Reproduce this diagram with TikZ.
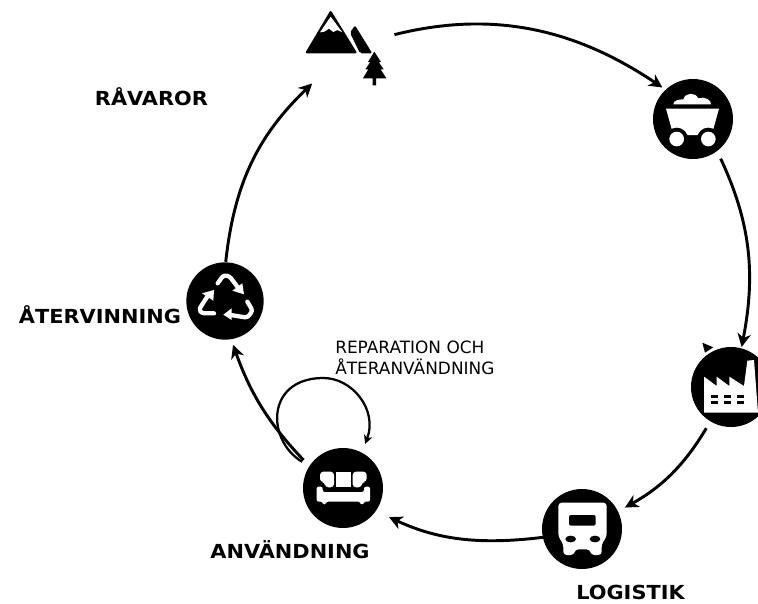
\documentclass[tikz,border=0pt]{standalone}
\usepackage{fontspec}
\setmainfont{DejaVu Sans}
\newfontfamily\widebold[FakeStretch=1.08]{DejaVu Sans}
\usetikzlibrary{arrows.meta}
\tikzset{
  disc/.style={circle,fill=black,minimum size=60pt,inner sep=0pt,outer sep=0pt},
  flow/.style={line width=2.2pt,-{Stealth[length=10pt,width=10pt,inset=3pt]}},
  loopflow/.style={line width=1.7pt,-{Stealth[length=6.5pt,width=6.5pt,inset=1.8pt]}},
  boldlabel/.style={font=\widebold\bfseries\fontsize{14.5}{16}\selectfont,inner sep=0pt,anchor=center},
  thinlabel/.style={font=\fontsize{12.7}{14}\selectfont,inner sep=0pt,anchor=west},
  ink/.style={fill=white,draw=none},
  zoomed/.style={x=0.25pt,y=-0.25pt}
}
\begin{document}
\begin{tikzpicture}[x=0.75pt,y=-0.75pt]
\useasboundingbox (0,0) rectangle (758,604);
\begin{scope}
\clip (0,0) rectangle (758,604);
% discs
\node[disc] (cart) at (693,119) {};
\node[disc] (factory) at (731,387) {};
\node[disc] (truck) at (582,529) {};
\node[disc] (sofa) at (343,488) {};
\node[disc,minimum size=58pt] (recycle) at (225,301) {};
\node[circle,minimum size=60pt,inner sep=0pt,outer sep=0pt] (mtn) at (338,48) {};
% mountains and tree
\begin{scope}[shift={(280,0)},zoomed]
\fill[black,rounded corners=1.5pt] (152,30) -- (232,160) -- (75,160) -- cycle;
\fill[white] (152,50) -- (187,97) -- (172,90) -- (160,96) -- (147,86) -- (133,95) -- (120,97) -- cycle;
\fill[black,rounded corners=1.5pt] (225,76) -- (277,160) -- (240,160) -- (210,98) -- cycle;
\fill[black] (283,155) -- (303,186) -- (296,186) -- (311,208) -- (302,208) -- (319,235) -- (288,235) -- (288,256) -- (278,256) -- (278,235) -- (249,235) -- (265,208) -- (256,208) -- (271,186) -- (264,186) -- cycle;
\end{scope}
% cart
\begin{scope}[shift={(630,60)},zoomed]
\path[ink] (130,133) .. controls (130,122) and (145,118) .. (160,118) .. controls (165,98) and (195,95) .. (205,115) .. controls (222,108) and (245,120) .. (243,133) -- cycle;
\path[ink] (108,146) -- (267,146) -- (245,225) -- (130,225) -- cycle;
\fill[black] (140,237) circle (34);
\fill[black] (235,237) circle (34);
\path[ink] (140,237) circle (22);
\path[ink] (235,237) circle (22);
\end{scope}
% factory
\begin{scope}[shift={(670,320)},zoomed]
\path[ink] (102,278) -- (102,170) -- (140,198) -- (140,170) -- (178,198) -- (178,170) -- (222,198) -- (232,122) -- (252,120) -- (264,278) -- cycle;
\foreach \wx in {122,162,200}{
  \fill[black] (\wx,224) rectangle +(21,9);
  \fill[black] (\wx,242) rectangle +(21,9);
}
\end{scope}
% truck
\begin{scope}[shift={(530,480)},zoomed]
\path[ink,rounded corners=2.5pt] (85,68) -- (230,68) -- (230,170) -- (215,192) -- (215,225) -- (183,225) -- (180,208) -- (135,208) -- (132,225) -- (100,225) -- (100,192) -- (85,170) -- cycle;
\fill[black,rounded corners=1.5pt] (117,105) rectangle (197,137);
\fill[black] (122,177) ellipse (16 and 10);
\fill[black] (195,177) ellipse (16 and 10);
\end{scope}
% sofa
\begin{scope}[shift={(260,370)},zoomed]
\path[ink,rounded corners=2.5pt] (180,305) -- (222,305) -- (222,352) -- (195,352) -- (195,336) -- (180,336) -- cycle;
\path[ink] (227,305) rectangle (273,352);
\path[ink,rounded corners=2.5pt] (278,305) -- (320,305) -- (320,336) -- (305,336) -- (305,352) -- (278,352) -- cycle;
\path[ink,rounded corners=1.5pt] (170,350) -- (188,350) -- (188,366) -- (312,366) -- (312,350) -- (330,350) -- (330,395) -- (311,395) -- (311,403) -- (301,403) -- (301,395) -- (198,395) -- (198,403) -- (188,403) -- (188,395) -- (170,395) -- cycle;
\end{scope}
% recycle
\begin{scope}[shift={(170,250)},zoomed]
\draw[white,line width=3.2pt,line join=round,line cap=round,rounded corners=2pt] (143,100) -- (160,76) -- (178,78) -- (208,118);
\fill[white] (222,133) -- (187,122) -- (217,100) -- cycle;
\draw[white,line width=3.2pt,line join=round,line cap=round,rounded corners=2pt] (232,155) -- (248,182) -- (232,203) -- (182,195);
\fill[white] (160,194) -- (185,175) -- (185,210) -- cycle;
\draw[white,line width=3.2pt,line join=round,line cap=round,rounded corners=2pt] (132,190) -- (95,190) -- (87,178) -- (112,140);
\fill[white] (132,120) -- (96,130) -- (130,152) -- cycle;
\end{scope}
% stray mark beside the factory
\fill[black] (702.3,342.7) -- (713.3,347.3) -- (705,352.7) -- cycle;
% connectors
\draw[flow,shorten <=13.5pt,shorten >=3pt] (mtn.13) to[bend left=24] (cart.133);
\draw[flow,shorten <=6.4pt,shorten >=1pt] (cart.-53) to[bend left=18] (factory.75);
\draw[flow,shorten <=6pt,shorten >=6pt] (factory.-121) to[bend left=15] (truck.26);
\draw[flow,shorten <=0pt,shorten >=11pt] (truck.192) to[bend left=16] (sofa.-35);
\draw[flow,shorten <=6.4pt,shorten >=4.5pt] (sofa.147) to[bend left=12] (recycle.-81);
\draw[flow,shorten <=0.4pt,shorten >=3pt] (recycle.89) to[bend left=20] (mtn.235);
\draw[loopflow,shorten <=6.4pt,shorten >=7pt] (sofa.147) .. controls (266,440) and (266,379) .. (322,378) .. controls (352,377) and (378,410) .. (sofa.62);
\end{scope}
% labels
\node[boldlabel] (lraw) at (151.5,96.5) {RÅVAROR};
\node[boldlabel] (lrec) at (100,315) {ÅTERVINNING};
\node[boldlabel] (luse) at (290,550) {ANVÄNDNING};
\node[boldlabel] (llog) at (630.5,592) {LOGISTIK};
\node[thinlabel] (lrep1) at (335,347) {REPARATION OCH};
\node[thinlabel] (lrep2) at (335,367) {ÅTERANVÄNDNING};
\end{tikzpicture}
\end{document}
